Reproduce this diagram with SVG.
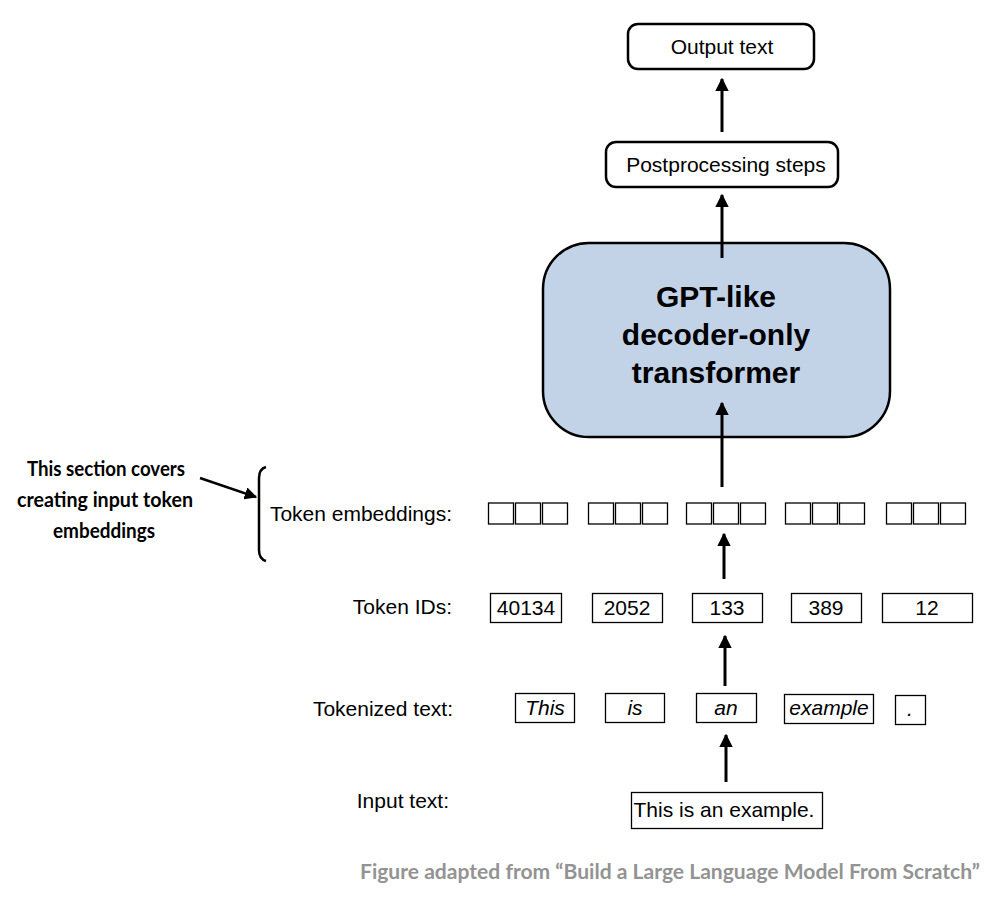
<svg xmlns="http://www.w3.org/2000/svg" width="990" height="910" viewBox="0 0 990 910">
<defs>
<style>
.t{font-family:"Liberation Sans",Arial,Helvetica,sans-serif;font-size:21px;fill:#000}
.i{font-style:italic}
.m{text-anchor:middle}
.e{text-anchor:end}
.b{font-family:"Liberation Sans",Arial,sans-serif;font-weight:bold;font-size:30px;text-anchor:middle}
.c{font-family:Lato,"Open Sans",sans-serif;font-weight:bold;font-size:21px;text-anchor:middle}
.f{font-family:Lato,"Open Sans",sans-serif;font-weight:bold;font-size:20.5px;fill:#939393}
.rb{fill:#fff;stroke:#000;stroke-width:2.5}
.sb{fill:#fff;stroke:#000;stroke-width:1.3}
.ln{stroke:#000;stroke-width:3;fill:none}
</style>
<marker id="ah" viewBox="0 0 10 10" refX="9" refY="5" markerWidth="4.5" markerHeight="4.5" markerUnits="strokeWidth" orient="auto">
<path d="M0,0 L10,5 L0,10 z" fill="#000"/>
</marker>
<marker id="ah2" viewBox="0 0 10 10" refX="9" refY="5" markerWidth="5" markerHeight="5" markerUnits="strokeWidth" orient="auto">
<path d="M0,0 L10,5 L0,10 z" fill="#000"/>
</marker>
</defs>
<rect width="990" height="910" fill="#fff"/>

<g id="output-text">
<rect class="rb" x="628" y="24" width="186" height="45" rx="10"/>
<text class="t m" x="722" y="54">Output text</text>
</g>
<g id="postprocessing">
<rect class="rb" x="606" y="142" width="232" height="45" rx="10"/>
<text class="t m" x="726" y="172">Postprocessing steps</text>
</g>
<g id="gpt">
<rect x="543" y="243" width="347" height="194" rx="46" fill="#c2d3e8" stroke="#000" stroke-width="2.5"/>
<text class="b" x="716" y="307">GPT-like</text>
<text class="b" x="716" y="345">decoder-only</text>
<text class="b" x="716" y="383">transformer</text>
</g>

<g id="callout">
<text class="c" x="106" y="476" textLength="158" lengthAdjust="spacingAndGlyphs">This section covers</text>
<text class="c" x="105" y="507" textLength="176" lengthAdjust="spacingAndGlyphs">creating input token</text>
<text class="c" x="104" y="538" textLength="102" lengthAdjust="spacingAndGlyphs">embeddings</text>
<path d="M266,467 Q259,469 259,478 L259,550 Q259,559 266,561" fill="none" stroke="#000" stroke-width="2.5"/>
</g>

<g id="labels">
<text class="t e" x="452" y="521">Token embeddings:</text>
<text class="t e" x="452" y="614">Token IDs:</text>
<text class="t e" x="453" y="716">Tokenized text:</text>
<text class="t e" x="449" y="808">Input text:</text>
</g>

<g id="token-embeddings">
<rect class="sb" x="488.5" y="503" width="25" height="21"/><rect class="sb" x="515.5" y="503" width="25" height="21"/><rect class="sb" x="542.5" y="503" width="25" height="21"/>
<rect class="sb" x="588.5" y="503" width="25" height="21"/><rect class="sb" x="615.5" y="503" width="25" height="21"/><rect class="sb" x="642.5" y="503" width="25" height="21"/>
<rect class="sb" x="686.5" y="503" width="25" height="21"/><rect class="sb" x="713.5" y="503" width="25" height="21"/><rect class="sb" x="740.5" y="503" width="25" height="21"/>
<rect class="sb" x="785.5" y="503" width="25" height="21"/><rect class="sb" x="812.5" y="503" width="25" height="21"/><rect class="sb" x="839.5" y="503" width="25" height="21"/>
<rect class="sb" x="886.5" y="503" width="25" height="21"/><rect class="sb" x="913.5" y="503" width="25" height="21"/><rect class="sb" x="940.5" y="503" width="25" height="21"/>
</g>

<g id="token-ids">
<rect class="sb" x="490.5" y="593.5" width="71" height="29"/><text class="t m" x="526" y="615">40134</text>
<rect class="sb" x="592.5" y="593.5" width="70" height="29"/><text class="t m" x="627" y="615">2052</text>
<rect class="sb" x="692.5" y="593.5" width="70" height="29"/><text class="t m" x="727" y="615">133</text>
<rect class="sb" x="791.5" y="593.5" width="70" height="29"/><text class="t m" x="826" y="615">389</text>
<rect class="sb" x="882.5" y="593.5" width="90" height="29"/><text class="t m" x="927" y="615">12</text>
</g>

<g id="tokenized">
<rect class="sb" x="515.5" y="693.5" width="59" height="29"/><text class="t i m" x="545" y="715">This</text>
<rect class="sb" x="605.5" y="693.5" width="59" height="29"/><text class="t i m" x="635" y="715">is</text>
<rect class="sb" x="696.5" y="693.5" width="60" height="29"/><text class="t i m" x="726" y="715">an</text>
<rect class="sb" x="784.5" y="694.5" width="89" height="29"/><text class="t i m" x="829" y="715">example</text>
<rect class="sb" x="895.5" y="695.5" width="30" height="29"/><text class="t i m" x="910" y="716">.</text>
</g>

<g id="input-text">
<rect class="sb" x="631.5" y="792.5" width="191" height="36"/>
<text class="t m" x="724" y="817">This is an example.</text>
</g>

<g id="connectors">
<line class="ln" x1="722" y1="132" x2="722" y2="79" marker-end="url(#ah)"/>
<line class="ln" x1="722" y1="258" x2="722" y2="195" marker-end="url(#ah)"/>
<line class="ln" x1="722" y1="487" x2="722" y2="403" marker-end="url(#ah)"/>
<line class="ln" x1="724" y1="579" x2="724" y2="534" marker-end="url(#ah)"/>
<line class="ln" x1="725" y1="686" x2="725" y2="636" marker-end="url(#ah)"/>
<line class="ln" x1="726" y1="782" x2="726" y2="735" marker-end="url(#ah)"/>
<line x1="200" y1="478" x2="256" y2="497" stroke="#000" stroke-width="2.5" marker-end="url(#ah2)"/>
</g>

<g id="footer">
<text class="f" x="360" y="879" textLength="620" lengthAdjust="spacingAndGlyphs">Figure adapted from “Build a Large Language Model From Scratch”</text>
</g>
</svg>
